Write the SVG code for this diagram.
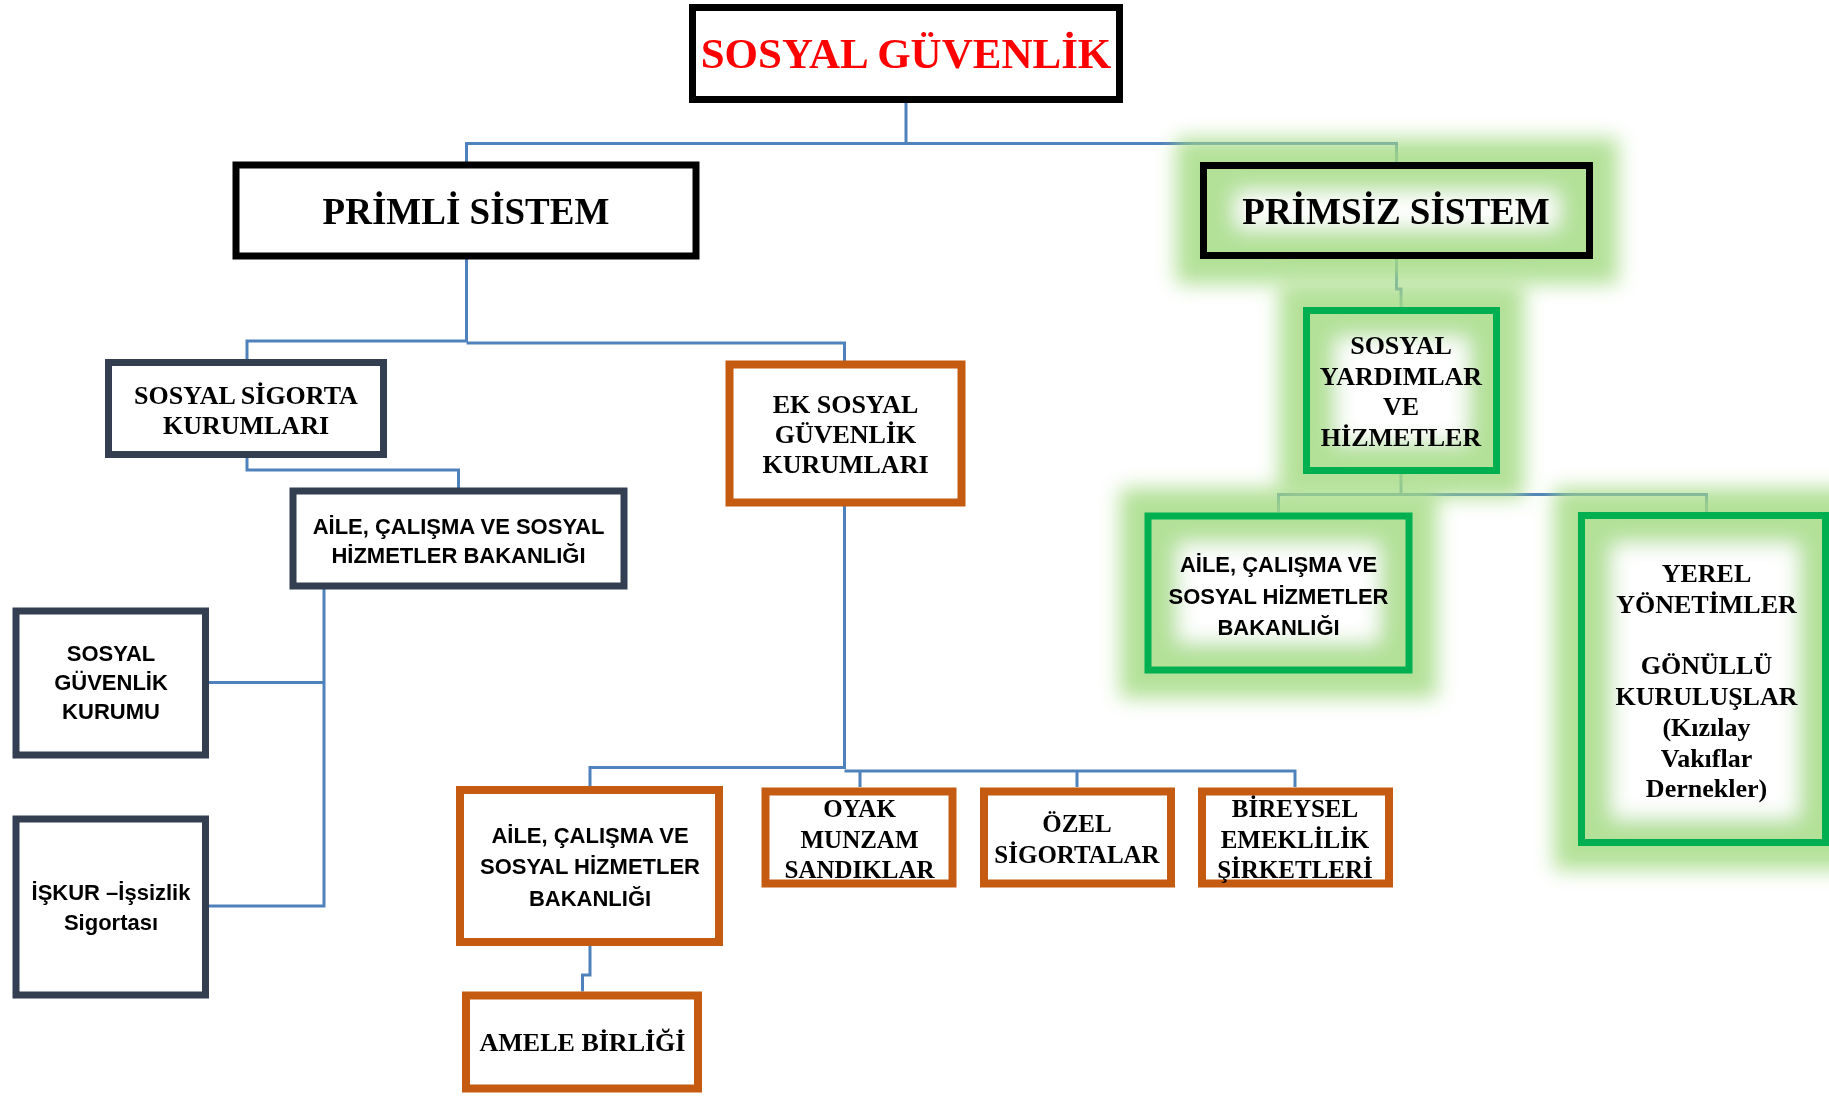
<svg xmlns="http://www.w3.org/2000/svg" width="1829" height="1097" viewBox="0 0 1829 1097">
<defs>
<style>
.bg{fill:#ffffff}
.con{fill:none;stroke:#4f81bd;stroke-width:3}
.blk{fill:#ffffff;stroke:#000000;stroke-width:7}
.navy{fill:#ffffff;stroke:#333f50;stroke-width:7}
.org{fill:#ffffff;stroke:#c55a11;stroke-width:8}
.grn{fill:none;stroke:#00b050;stroke-width:7}
.gblk{fill:none;stroke:#000000;stroke-width:7}
.serif{font-family:"Liberation Serif","Times New Roman",serif;font-weight:bold;text-anchor:middle;fill:#000000}
.sans{font-family:"Liberation Sans",Arial,sans-serif;font-weight:bold;text-anchor:middle;fill:#000000}
.glowring{fill:#a6dc86}
.glowin{fill:#ffffff}
</style>
<filter id="blur" x="-30%" y="-30%" width="160%" height="160%">
<feGaussianBlur stdDeviation="10"/>
</filter>
</defs>
<rect class="bg" x="0" y="0" width="1829" height="1097"/>

<g id="connectors">
<path class="con" d="M906,103 V143.5"/>
<path class="con" d="M466.5,162 V143.5 H1396.5 V162"/>
<path class="con" d="M466.5,259 V342"/>
<path class="con" d="M247,359 V341 H466.5"/>
<path class="con" d="M466.5,343 H844.5 V361"/>
<path class="con" d="M247,458 V470 H458.5 V488"/>
<path class="con" d="M324,589 V906 H209"/>
<path class="con" d="M324,682.5 H209"/>
<path class="con" d="M844.5,506 V767.5 H590 V786"/>
<path class="con" d="M844.5,771 H1295 V787"/>
<path class="con" d="M860,771 V787"/>
<path class="con" d="M1077,771 V787"/>
<path class="con" d="M590,945 V975 H582.5 V991.5"/>
<path class="con" d="M1396.5,259 V289 H1401 V307"/>
<path class="con" d="M1401,474 V494.5 H1278.5 V512"/>
<path class="con" d="M1401,494.5 H1706.5 V512"/>
</g>

<g id="glows" opacity="0.85">
<g filter="url(#blur)">
<rect class="glowring" x="1176" y="138" width="442" height="146"/>
<rect class="glowin" x="1236" y="192" width="322" height="36"/>
</g>
<g filter="url(#blur)">
<rect class="glowring" x="1279" y="283" width="245" height="215"/>
<rect class="glowin" x="1336" y="338" width="132" height="104"/>
</g>
<g filter="url(#blur)">
<rect class="glowring" x="1120" y="488" width="317" height="210"/>
<rect class="glowin" x="1178" y="544" width="201" height="98"/>
</g>
<g filter="url(#blur)">
<rect class="glowring" x="1554" y="488" width="300" height="382"/>
<rect class="glowin" x="1612" y="544" width="186" height="274"/>
</g>
</g>

<g id="n-sosyal-guvenlik">
<rect class="blk" x="692.5" y="7.5" width="427" height="92"/>
<text x="906" y="68" font-family="Liberation Serif, Times New Roman, serif" font-weight="bold" font-size="43" text-anchor="middle" fill="#ff0000">SOSYAL GÜVENLİK</text>
</g>

<g id="n-primli">
<rect class="blk" x="236" y="165" width="460" height="91" stroke-width="6"/>
<text class="serif" x="466" y="224" font-size="37">PRİMLİ SİSTEM</text>
</g>

<g id="n-primsiz">
<rect class="gblk" x="1203.5" y="165.5" width="386" height="90"/>
<text class="serif" x="1396" y="224" font-size="37">PRİMSİZ SİSTEM</text>
</g>

<g id="n-ssk">
<rect class="navy" x="108.5" y="362.5" width="275" height="92"/>
<text class="serif" x="246" y="403.5" font-size="26">SOSYAL SİGORTA</text>
<text class="serif" x="246" y="434" font-size="26">KURUMLARI</text>
</g>

<g id="n-aceb-1">
<rect class="navy" x="293" y="491" width="331" height="95"/>
<text class="sans" x="458.5" y="534" font-size="22">AİLE, ÇALIŞMA VE SOSYAL</text>
<text class="sans" x="458.5" y="563" font-size="22">HİZMETLER BAKANLIĞI</text>
</g>

<g id="n-sgk">
<rect class="navy" x="16" y="611" width="189.5" height="144"/>
<text class="sans" x="111" y="660.5" font-size="22">SOSYAL</text>
<text class="sans" x="111" y="689.5" font-size="22">GÜVENLİK</text>
<text class="sans" x="111" y="718.5" font-size="22">KURUMU</text>
</g>

<g id="n-iskur">
<rect class="navy" x="16" y="819" width="189.5" height="176"/>
<text class="sans" x="111" y="899.5" font-size="22">İŞKUR –İşsizlik</text>
<text class="sans" x="111" y="930" font-size="22">Sigortası</text>
</g>

<g id="n-ek">
<rect class="org" x="729.5" y="364.5" width="232" height="138"/>
<text class="serif" x="845.5" y="413" font-size="26">EK SOSYAL</text>
<text class="serif" x="845.5" y="443" font-size="26">GÜVENLİK</text>
<text class="serif" x="845.5" y="473" font-size="26">KURUMLARI</text>
</g>

<g id="n-syv">
<rect class="grn" x="1306.5" y="310.5" width="190" height="160"/>
<text class="serif" x="1401" y="353.5" font-size="26">SOSYAL</text>
<text class="serif" x="1401" y="384.5" font-size="26">YARDIMLAR</text>
<text class="serif" x="1401" y="415" font-size="26">VE</text>
<text class="serif" x="1401" y="445.5" font-size="26">HİZMETLER</text>
</g>

<g id="n-aceb-2">
<rect class="grn" x="1148" y="516" width="261" height="154"/>
<text class="sans" x="1278.5" y="572" font-size="22">AİLE, ÇALIŞMA VE</text>
<text class="sans" x="1278.5" y="603.5" font-size="22">SOSYAL HİZMETLER</text>
<text class="sans" x="1278.5" y="635" font-size="22">BAKANLIĞI</text>
</g>

<g id="n-yerel">
<rect class="grn" x="1581.5" y="515.5" width="244" height="327"/>
<text class="serif" x="1706.5" y="582" font-size="26">YEREL</text>
<text class="serif" x="1706.5" y="613" font-size="26">YÖNETİMLER</text>
<text class="serif" x="1706.5" y="674" font-size="26">GÖNÜLLÜ</text>
<text class="serif" x="1706.5" y="705" font-size="26">KURULUŞLAR</text>
<text class="serif" x="1706.5" y="736" font-size="26">(Kızılay</text>
<text class="serif" x="1706.5" y="766.5" font-size="26">Vakıflar</text>
<text class="serif" x="1706.5" y="797" font-size="26">Dernekler)</text>
</g>

<g id="n-aceb-3">
<rect class="org" x="460" y="790" width="259" height="152"/>
<text class="sans" x="590" y="842.5" font-size="22">AİLE, ÇALIŞMA VE</text>
<text class="sans" x="590" y="874" font-size="22">SOSYAL HİZMETLER</text>
<text class="sans" x="590" y="906" font-size="22">BAKANLIĞI</text>
</g>

<g id="n-amele">
<rect class="org" x="466" y="995.5" width="232" height="93"/>
<text class="serif" x="582.5" y="1051" font-size="26">AMELE BİRLİĞİ</text>
</g>

<g id="n-oyak">
<rect class="org" x="765.5" y="791.5" width="187" height="92"/>
<text class="serif" x="859.5" y="817" font-size="25">OYAK</text>
<text class="serif" x="859.5" y="848" font-size="25">MUNZAM</text>
<text class="serif" x="859.5" y="878" font-size="25">SANDIKLAR</text>
</g>

<g id="n-ozel">
<rect class="org" x="984" y="791.5" width="187" height="92"/>
<text class="serif" x="1077" y="832" font-size="25">ÖZEL</text>
<text class="serif" x="1077" y="863" font-size="25">SİGORTALAR</text>
</g>

<g id="n-bireysel">
<rect class="org" x="1202" y="791.5" width="187" height="92"/>
<text class="serif" x="1295" y="817" font-size="25">BİREYSEL</text>
<text class="serif" x="1295" y="848" font-size="25">EMEKLİLİK</text>
<text class="serif" x="1295" y="878" font-size="25">ŞİRKETLERİ</text>
</g>
</svg>
